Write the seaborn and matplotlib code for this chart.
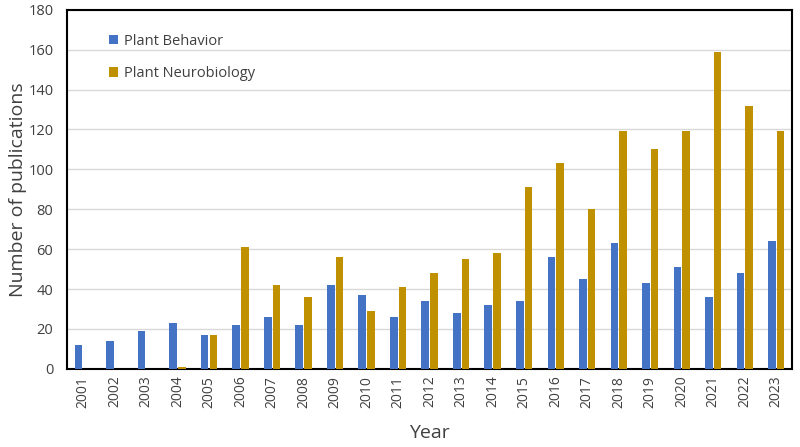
"""Publications per year: plant behavior vs plant neurobiology."""

import matplotlib.pyplot as plt
import pandas as pd
import seaborn as sns

years = [str(y) for y in range(2001, 2024)]
plant_behavior = [12, 14, 19, 23, 17, 22, 26, 22, 42, 37, 26, 34, 28, 32, 34, 56,
                  45, 63, 43, 51, 36, 48, 64]
plant_neurobiology = [0, 0, 0, 1, 17, 61, 42, 36, 56, 29, 41, 48, 55, 58, 91, 103,
                      80, 119, 110, 119, 159, 132, 119]
series_names = ["Plant Behavior", "Plant Neurobiology"]
colors = ["#4472C4", "#BF9000"]

df = pd.DataFrame({
    "year": years * 2,
    "count": plant_behavior + plant_neurobiology,
    "series": [series_names[0]] * len(years) + [series_names[1]] * len(years),
})

sns.set_style("white")
plt.rcParams["font.family"] = ["Open Sans", "DejaVu Sans"]

fig, ax = plt.subplots(figsize=(8, 4.47), dpi=100)
fig.subplots_adjust(left=0.084, right=0.99, top=0.978, bottom=0.175)

sns.barplot(data=df, x="year", y="count", hue="series", palette=colors,
            saturation=1, width=0.55, gap=0.12, linewidth=0, ax=ax, zorder=3)

ax.set_ylim(0, 180)
ax.set_yticks(range(0, 181, 20))
ax.set_xlim(-0.5, len(years) - 0.5)
ax.yaxis.grid(True, color="#D9D9D9", linewidth=1, zorder=0)
ax.set_axisbelow(True)
for spine in ax.spines.values():
    spine.set_visible(True)
    spine.set_color("black")
    spine.set_linewidth(1.5)

ax.tick_params(axis="x", rotation=90, labelsize=10, length=0, pad=5, colors="#404040")
ax.tick_params(axis="y", labelsize=10.5, length=0, pad=10, colors="#404040")
ax.set_xlabel("Year", fontsize=14, color="#404040", labelpad=12)
ax.set_ylabel("Number of publications", fontsize=14, color="#404040", labelpad=1)

ax.legend(loc="upper left", bbox_to_anchor=(0.04, 0.97), frameon=False,
          fontsize=10.5, labelspacing=1.2, handlelength=0.6, handleheight=0.6,
          handletextpad=0.4, labelcolor="#404040")

fig.savefig("out.png", dpi=100)
plt.close(fig)
